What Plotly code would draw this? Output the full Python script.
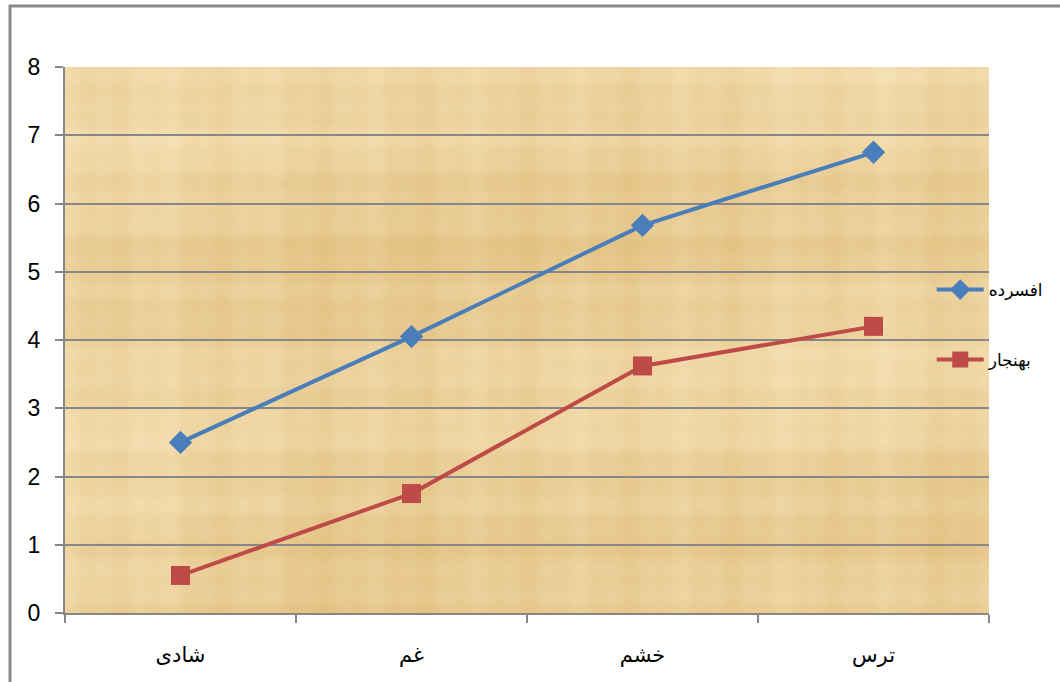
import base64
import struct
import zlib

import numpy as np
import plotly.graph_objects as go

categories = ["شادی", "غم", "خشم", "ترس"]
depressed = [2.5, 4.05, 5.68, 6.75]   # افسرده
normal = [0.55, 1.75, 3.62, 4.2]      # بهنجار
y_ticks = [0, 1, 2, 3, 4, 5, 6, 7, 8]

GRID = "#878787"
FONT = "Liberation Sans, Arial, DejaVu Sans, sans-serif"
AR_FONT = "DejaVu Sans, sans-serif"


def papyrus_png(w=462, h=273):
    """Soft woven papyrus-like fill for the plot area, returned as a data URI."""
    yy, xx = np.mgrid[0:h, 0:w].astype(float)
    # horizontal and vertical fibre strips of uneven width
    rows = (np.sin(yy * 0.41) * 0.5 + np.sin(yy * 0.173 + 1.3) * 0.7
            + np.sin(yy * 0.047 + 0.4) * 0.6)
    cols = (np.sin(xx * 0.37 + 0.8) * 0.5 + np.sin(xx * 0.121 + 2.1) * 0.7
            + np.sin(xx * 0.029 + 1.7) * 0.6)
    blotch = np.sin(xx * 0.013 + yy * 0.021) * np.cos(yy * 0.017 - xx * 0.008)
    t = 0.45 * rows + 0.45 * cols + 0.9 * blotch
    t = (t - t.min()) / (t.max() - t.min())          # 0..1
    dark = np.array([226, 192, 128], float)
    light = np.array([246, 226, 182], float)
    img = dark[None, None, :] + (light - dark)[None, None, :] * t[..., None]
    img = np.clip(img, 0, 255).astype(np.uint8)
    raw = b"".join(b"\x00" + img[r].tobytes() for r in range(h))

    def chunk(tag, data):
        c = tag + data
        return struct.pack(">I", len(data)) + c + struct.pack(">I", zlib.crc32(c) & 0xFFFFFFFF)

    png = (b"\x89PNG\r\n\x1a\n"
           + chunk(b"IHDR", struct.pack(">IIBBBBB", w, h, 8, 2, 0, 0, 0))
           + chunk(b"IDAT", zlib.compress(raw, 9))
           + chunk(b"IEND", b""))
    return "data:image/png;base64," + base64.b64encode(png).decode()


fig = go.Figure()
fig.add_trace(go.Scatter(
    x=categories, y=depressed, name="افسرده", mode="lines+markers",
    line=dict(color="#4a7ebb", width=4),
    marker=dict(symbol="diamond", size=18, color="#4a7ebb"),
    legend="legend",
))
fig.add_trace(go.Scatter(
    x=categories, y=normal, name="بهنجار", mode="lines+markers",
    line=dict(color="#be4b48", width=4),
    marker=dict(symbol="square", size=19, color="#be4b48"),
    legend="legend2",
))

# outer frame of the chart area
fig.add_shape(type="rect", xref="paper", yref="paper",
              x0=-0.0595, x1=1.3, y0=-0.4, y1=1.1117,
              line=dict(color="#8a8a8a", width=3), fillcolor="rgba(0,0,0,0)",
              layer="below")

fig.add_layout_image(dict(
    source=papyrus_png(), xref="paper", yref="paper",
    x=0, y=1, sizex=1, sizey=1, xanchor="left", yanchor="top",
    sizing="stretch", layer="below",
))

legend_common = dict(
    xanchor="left", yanchor="middle", x=0.938,
    bgcolor="rgba(0,0,0,0)", borderwidth=0,
    font=dict(family=AR_FONT, size=17, color="#000"),
    itemwidth=47,
)

fig.update_layout(
    width=1060, height=682,
    margin=dict(l=65, r=71, t=67, b=69),
    paper_bgcolor="white",
    plot_bgcolor="rgba(0,0,0,0)",
    font=dict(family=FONT, color="#000"),
    showlegend=True,
    legend=dict(y=0.5916, **legend_common),
    legend2=dict(y=0.4634, **legend_common),
    xaxis=dict(
        type="category", categoryorder="array", categoryarray=categories,
        range=[-0.5, 3.5], tickson="boundaries",
        ticks="outside", ticklen=8, tickwidth=2, tickcolor=GRID,
        showline=True, linecolor=GRID, linewidth=2, showgrid=False,
        tickfont=dict(family=AR_FONT, size=21),
        ticklabelstandoff=22,
    ),
    yaxis=dict(
        range=[0, 8], tickvals=y_ticks,
        ticks="outside", ticklen=8, tickwidth=2, tickcolor=GRID,
        showline=True, linecolor=GRID, linewidth=2,
        showgrid=True, gridcolor=GRID, gridwidth=2,
        zeroline=False,
        tickfont=dict(family=FONT, size=23),
        ticklabelstandoff=10,
    ),
)

fig.write_html("out.html")
